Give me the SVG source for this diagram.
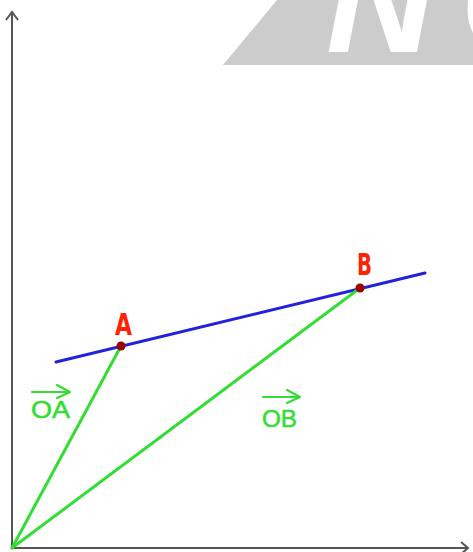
<svg xmlns="http://www.w3.org/2000/svg" width="473" height="552" viewBox="0 0 473 552">
<style>
.axis{stroke:#555;stroke-width:2;fill:none}
.vec{stroke:#33dd33;stroke-width:3;fill:none;stroke-linecap:round}
.lbl{font-family:"Liberation Sans",Arial,sans-serif;font-size:23px;fill:#33dd33;stroke:#33dd33;stroke-width:0.5}
.pt{font-family:"DejaVu Sans",sans-serif;font-weight:bold;font-size:31px;fill:#ff2200}
.arr{stroke:#33dd33;stroke-width:2.2;fill:none;stroke-linecap:round;stroke-linejoin:round}
</style>
<rect width="473" height="552" fill="#fff"/>
<g id="watermark">
<polygon points="223,65 277,0 473,0 473,65" fill="#cccccc"/>
<text x="326" y="52" font-family="Liberation Sans,Arial,sans-serif" font-weight="bold" font-style="italic" font-size="150" letter-spacing="26" fill="#fff">NC</text>
</g>
<g id="axes">
<path class="axis" d="M12,548 V12 M6,20 L12,12 L18,20"/>
<path class="axis" d="M12,548 H468 M461,542 L468,548 L461,554"/>
</g>
<g id="connectors">
<line x1="56" y1="362" x2="425" y2="273" stroke="#2222dd" stroke-width="3" stroke-linecap="round"/>
<line class="vec" x1="12" y1="548" x2="121" y2="346"/>
<line class="vec" x1="12" y1="548" x2="360" y2="288"/>
</g>
<g id="pointA">
<circle cx="121" cy="346" r="4.5" fill="#990000"/>
<text class="pt" x="115" y="335" textLength="17" lengthAdjust="spacingAndGlyphs">A</text>
</g>
<g id="pointB">
<circle cx="360" cy="288" r="4.5" fill="#990000"/>
<text class="pt" x="357" y="275" textLength="15" lengthAdjust="spacingAndGlyphs">B</text>
</g>
<g id="labelOA">
<path class="arr" d="M32,392 H70 M57,385 L70,392 L57,398"/>
<text class="lbl" x="31" y="418" textLength="39" lengthAdjust="spacingAndGlyphs">OA</text>
</g>
<g id="labelOB">
<path class="arr" d="M263,397 H300 M287,390 L300,397 L287,403"/>
<text class="lbl" x="262" y="427" textLength="35" lengthAdjust="spacingAndGlyphs">OB</text>
</g>
</svg>
